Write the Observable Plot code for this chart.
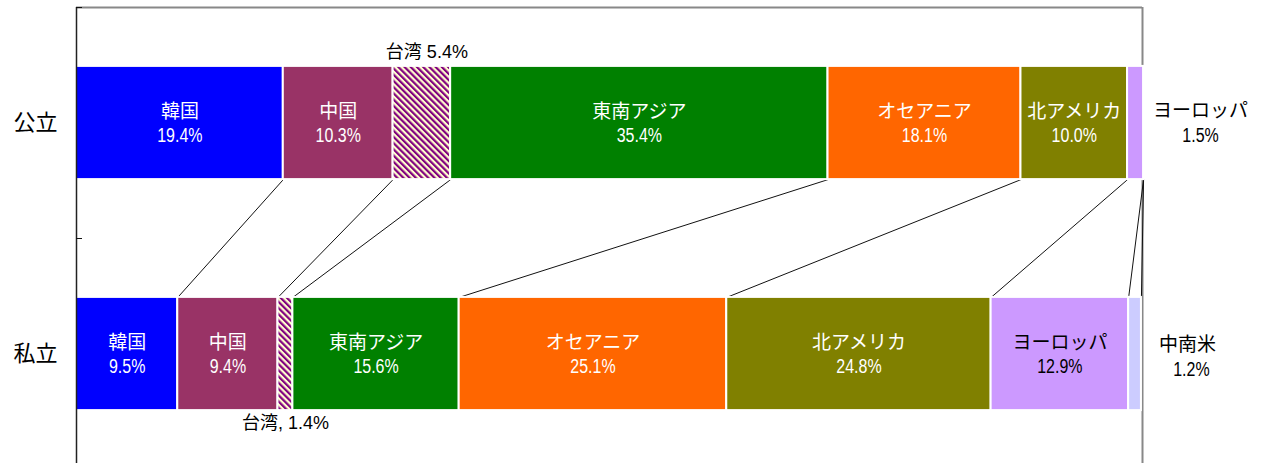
<!DOCTYPE html>
<html>
<head>
<meta charset="utf-8">
<script src="https://cdn.jsdelivr.net/npm/d3@7"></script>
<script src="https://cdn.jsdelivr.net/npm/@observablehq/plot@0.6"></script>
<style>
  html, body { margin: 0; padding: 0; background: #fff; overflow: hidden; }
</style>
</head>
<body>
<div id="chart"></div>
<script>
// ---- data ----
const rows = ["公立", "私立"];
const regions = ["韓国", "中国", "台湾", "東南アジア", "オセアニア", "北アメリカ", "ヨーロッパ", "中南米"];
const publicValues = [19.4, 10.3, 5.4, 35.4, 18.1, 10.0, 1.5, 0];
const privateValues = [9.5, 9.4, 1.4, 15.6, 25.1, 24.8, 12.9, 1.2];
const rowTicks = [0, 1, 2];

// ---- styles ----
const colors = ["#0000FF", "#993366", "url(#hatch)", "#008000", "#FF6600", "#808000", "#CC99FF", "#CCCCFF"];
const darkText = new Set(["#CC99FF", "#CCCCFF"]);
const pad = 0.255;
// outside label placement (px offsets from segment mid / end)
const outside = {
  "公立|台湾":     {single: (n, v) => `${n} ${v}%`,  at: "mid", dx: 5,  dy: -71, dx2: 5},
  "私立|台湾":     {single: (n, v) => `${n}, ${v}%`, at: "mid", dx: 0,  dy: 69, dx2: 0},
  "公立|ヨーロッパ": {at: "end", dx: 57, dy: -12.5, dy2: 12.5, dx2: 57},
  "私立|中南米":    {at: "end", dx: 46, dy: -9, dy2: 16, dx2: 50}
};

// ---- build table ----
const seriesByRow = [publicValues, privateValues];
const segs = [];
seriesByRow.forEach((vals, r) => {
  let acc = 0;
  vals.forEach((v, i) => {
    segs.push({row: r, rowName: rows[r], region: regions[i], value: v, start: acc, end: acc + v, color: colors[i]});
    acc += v;
  });
});
const drawn = segs.filter(d => d.value > 0);

// label lines
const nameLines = [], pctLines = [], mixedLines = [];
drawn.forEach(d => {
  const o = outside[`${d.rowName}|${d.region}`];
  const pct = `${d.value.toFixed(1)}%`;
  const mid = (d.start + d.end) / 2;
  const y = d.row + 0.5;
  if (!o) {
    const fill = darkText.has(d.color) ? "#000" : "#fff";
    nameLines.push({x: mid, y, dx: 0, dy: -11.5, text: d.region, fill});
    pctLines.push({x: mid, y, dx: 0, dy: 13, text: pct, fill});
  } else if (o.single) {
    mixedLines.push({x: mid, y, dx: o.dx, dy: o.dy, text: o.single(d.region, d.value.toFixed(1)), fill: "#000"});
  } else {
    const x = o.at === "mid" ? mid : d.end;
    nameLines.push({x, y, dx: o.dx, dy: o.dy, text: d.region, fill: "#000"});
    pctLines.push({x, y, dx: o.dx2, dy: o.dy2, text: pct, fill: "#000"});
  }
});

const links = regions.map((name) => ({
  x1: segs.find(d => d.row === 0 && d.region === name).end,
  x2: segs.find(d => d.row === 1 && d.region === name).end
}));

const font = "'Liberation Sans', Arial, 'Noto Sans CJK JP', sans-serif";

function placed(data, sx) {
  return (index, scales, values, dims, ctx, next) => {
    const g = next(index, scales, values, dims, ctx);
    d3.select(g).selectAll("text").each(function(_, j) {
      const i = index[j], d = data[i];
      d3.select(this).attr("transform", `translate(${values.x[i] + d.dx},${values.y[i] + d.dy}) scale(${sx},1)`);
    });
    return g;
  };
}

const svg = Plot.plot({
  width: 1264,
  height: 463,
  marginLeft: 76,
  marginRight: 122,
  marginTop: 7,
  marginBottom: 0,
  x: {domain: [0, 100], range: [76, 1142], axis: null},
  y: {domain: [0, 2], range: [7, 469], axis: null},
  color: {type: "identity"},
  style: {fontFamily: font, background: "#fff"},
  marks: [
    Plot.ruleY([0], {x1: 0, x2: 100, stroke: "#888", strokeWidth: 2}),
    Plot.ruleX([100], {y1: 0, y2: 2, stroke: "#888", strokeWidth: 2}),
    Plot.link(links, {x1: "x1", x2: "x2", y1: 1 - pad, y2: 1 + pad, stroke: "#111", strokeWidth: 1}),
    Plot.rect(drawn, {x1: "start", x2: "end", y1: d => d.row + pad, y2: d => d.row + 1 - pad, fill: "color", stroke: "#fff", strokeWidth: 2}),
    Plot.text(nameLines, {x: "x", y: "y", text: "text", fill: "fill", fontSize: 19, render: placed(nameLines, 1)}),
    Plot.text(pctLines, {x: "x", y: "y", text: "text", fill: "fill", fontSize: 19.5, render: placed(pctLines, 0.82)}),
    Plot.text(mixedLines, {x: "x", y: "y", text: "text", fill: "fill", fontSize: 18, render: placed(mixedLines, 1)}),
    Plot.ruleX([0], {y1: 0, y2: 2, stroke: "#222", strokeWidth: 1.5}),
    Plot.axisY({anchor: "left", ticks: rowTicks, tickSize: 6, dx: 6, tickFormat: () => "", label: null, stroke: "#111"}),
    Plot.text(rows, {x: 0, y: (d, i) => i + 0.5, dx: -41, text: d => d, fontSize: 22, fill: "#000"})
  ]
});

const ns = "http://www.w3.org/2000/svg";
const defs = document.createElementNS(ns, "defs");
defs.innerHTML = `<pattern id="hatch" patternUnits="userSpaceOnUse" width="4.4" height="4.4" patternTransform="rotate(-45)">
  <rect width="4.4" height="4.4" fill="#FFFFCC"/><rect width="2.2" height="4.4" fill="#800080"/></pattern>`;
svg.insertBefore(defs, svg.firstChild);
document.getElementById("chart").appendChild(svg);
</script>
</body>
</html>
